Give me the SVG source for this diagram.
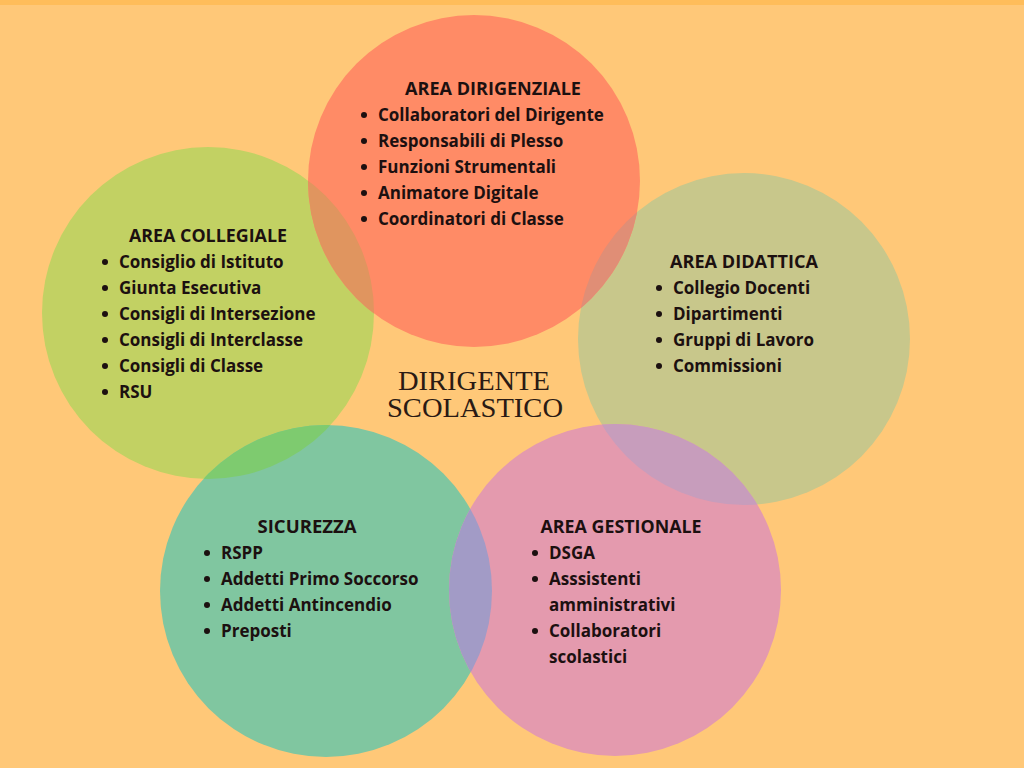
<svg xmlns="http://www.w3.org/2000/svg" width="1024" height="768" viewBox="0 0 1024 768">
<defs>
<style>
.t{font-family:"Open Sans","Noto Sans","Liberation Sans",sans-serif;font-weight:700;font-size:17px;fill:#1c1010}
.h{font-family:"Open Sans","Noto Sans","Liberation Sans",sans-serif;font-weight:700;font-size:17px;fill:#1c1010;text-anchor:middle}
.c{font-family:"Liberation Serif","DejaVu Serif",serif;font-size:27px;fill:#2a1a14;text-anchor:middle}
.b{fill:#1c1010}
</style>
<clipPath id="cTop"><circle cx="474" cy="181" r="166"/></clipPath>
<clipPath id="cLeft"><circle cx="208" cy="313" r="166"/></clipPath>
<clipPath id="cRight"><circle cx="744" cy="339" r="166"/></clipPath>
<clipPath id="cGreen"><circle cx="326" cy="591" r="166"/></clipPath>
<clipPath id="cPink"><circle cx="615" cy="590" r="166"/></clipPath>
</defs>
<rect width="1024" height="768" fill="#FFC878"/>
<rect width="1024" height="5" fill="#FFBD5A"/>
<g id="circles">
<circle cx="208" cy="313" r="166" fill="#C2D163"/>
<circle cx="744" cy="339" r="166" fill="#C8C78B"/>
<circle cx="474" cy="181" r="166" fill="#FF8B66"/>
<circle cx="326" cy="591" r="166" fill="#80C6A0"/>
<circle cx="615" cy="590" r="166" fill="#E49AAE"/>
<circle cx="474" cy="181" r="166" fill="#E0955F" clip-path="url(#cLeft)"/>
<circle cx="474" cy="181" r="166" fill="#E08E76" clip-path="url(#cRight)"/>
<circle cx="326" cy="591" r="166" fill="#7ECB6F" clip-path="url(#cLeft)"/>
<circle cx="615" cy="590" r="166" fill="#A29BC6" clip-path="url(#cGreen)"/>
<circle cx="615" cy="590" r="166" fill="#C79DBC" clip-path="url(#cRight)"/>
</g>
<g id="connectors"/>
<g id="area-dirigenziale">
<text class="h" x="493" y="95" textLength="176" lengthAdjust="spacingAndGlyphs">AREA DIRIGENZIALE</text>
<circle class="b" cx="364" cy="115" r="3"/><text class="t" x="378" y="121">Collaboratori del Dirigente</text>
<circle class="b" cx="364" cy="141" r="3"/><text class="t" x="378" y="147">Responsabili di Plesso</text>
<circle class="b" cx="364" cy="167" r="3"/><text class="t" x="378" y="173">Funzioni Strumentali</text>
<circle class="b" cx="364" cy="193" r="3"/><text class="t" x="378" y="199">Animatore Digitale</text>
<circle class="b" cx="364" cy="219" r="3"/><text class="t" x="378" y="225">Coordinatori di Classe</text>
</g>
<g id="area-collegiale">
<text class="h" x="208" y="242" textLength="158" lengthAdjust="spacingAndGlyphs">AREA COLLEGIALE</text>
<circle class="b" cx="105" cy="262" r="3"/><text class="t" x="119" y="268">Consiglio di Istituto</text>
<circle class="b" cx="105" cy="288" r="3"/><text class="t" x="119" y="294">Giunta Esecutiva</text>
<circle class="b" cx="105" cy="314" r="3"/><text class="t" x="119" y="320">Consigli di Intersezione</text>
<circle class="b" cx="105" cy="340" r="3"/><text class="t" x="119" y="346">Consigli di Interclasse</text>
<circle class="b" cx="105" cy="366" r="3"/><text class="t" x="119" y="372">Consigli di Classe</text>
<circle class="b" cx="105" cy="392" r="3"/><text class="t" x="119" y="398">RSU</text>
</g>
<g id="area-didattica">
<text class="h" x="744" y="268" textLength="148" lengthAdjust="spacingAndGlyphs">AREA DIDATTICA</text>
<circle class="b" cx="659" cy="288" r="3"/><text class="t" x="673" y="294">Collegio Docenti</text>
<circle class="b" cx="659" cy="314" r="3"/><text class="t" x="673" y="320">Dipartimenti</text>
<circle class="b" cx="659" cy="340" r="3"/><text class="t" x="673" y="346">Gruppi di Lavoro</text>
<circle class="b" cx="659" cy="366" r="3"/><text class="t" x="673" y="372">Commissioni</text>
</g>
<g id="sicurezza">
<text class="h" x="307" y="533" textLength="99" lengthAdjust="spacingAndGlyphs">SICUREZZA</text>
<circle class="b" cx="207" cy="553" r="3"/><text class="t" x="221" y="559">RSPP</text>
<circle class="b" cx="207" cy="579" r="3"/><text class="t" x="221" y="585">Addetti Primo Soccorso</text>
<circle class="b" cx="207" cy="605" r="3"/><text class="t" x="221" y="611">Addetti Antincendio</text>
<circle class="b" cx="207" cy="631" r="3"/><text class="t" x="221" y="637">Preposti</text>
</g>
<g id="area-gestionale">
<text class="h" x="621" y="533" textLength="161" lengthAdjust="spacingAndGlyphs">AREA GESTIONALE</text>
<circle class="b" cx="535" cy="553" r="3"/><text class="t" x="549" y="559">DSGA</text>
<circle class="b" cx="535" cy="579" r="3"/><text class="t" x="549" y="585">Asssistenti</text>
<text class="t" x="549" y="611">amministrativi</text>
<circle class="b" cx="535" cy="631" r="3"/><text class="t" x="549" y="637">Collaboratori</text>
<text class="t" x="549" y="663">scolastici</text>
</g>
<g id="dirigente-scolastico">
<text class="c" x="474" y="390" textLength="152" lengthAdjust="spacingAndGlyphs">DIRIGENTE</text>
<text class="c" x="475" y="417" textLength="176" lengthAdjust="spacingAndGlyphs">SCOLASTICO</text>
</g>
</svg>
